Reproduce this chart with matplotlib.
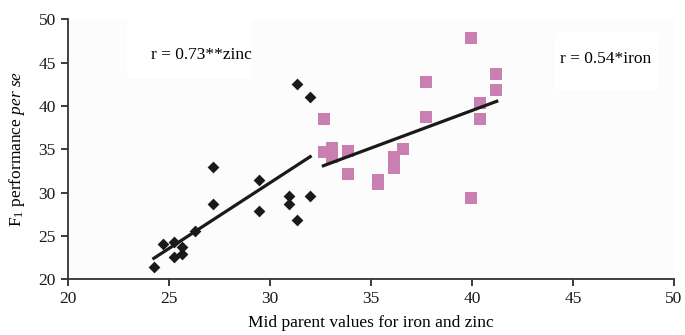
import matplotlib
matplotlib.use("Agg")
import matplotlib.pyplot as plt
import numpy as np
from matplotlib.patches import Rectangle

plt.rcParams['font.family'] = ['Liberation Serif', 'DejaVu Serif']
plt.rcParams['mathtext.fontset'] = 'custom'
plt.rcParams['mathtext.rm'] = 'Liberation Serif'
plt.rcParams['mathtext.it'] = 'Liberation Serif:italic'

# Zinc (black diamonds)
zinc_x = [24.26, 24.70, 25.26, 25.26, 25.66, 25.66, 26.30, 27.17, 27.17, 29.47,
          29.47, 30.93, 30.93, 31.35, 31.35, 31.97, 31.97]
zinc_y = [21.45, 24.10, 24.27, 22.57, 23.73, 22.92, 25.57, 32.99, 28.72, 31.42,
          27.92, 29.65, 28.72, 26.80, 42.50, 41.03, 29.65]
zinc_line_x = [24.26, 32.0]
zinc_line_y = [22.42, 34.15]

# Iron (pink squares)
iron_x = [32.67, 32.67, 33.10, 33.10, 33.87, 33.87, 35.35, 35.35, 36.15, 36.15,
          36.57, 37.71, 37.71, 39.97, 39.97, 40.40, 40.40, 41.18, 41.18]
iron_y = [38.46, 34.72, 35.20, 34.07, 34.80, 32.19, 31.46, 31.00, 34.07, 32.80,
          35.03, 42.80, 38.69, 47.80, 29.35, 40.30, 38.46, 43.70, 41.80]
iron_line_x = [32.65, 41.23]
iron_line_y = [33.10, 40.54]

x_ticks = [20, 25, 30, 35, 40, 45, 50]
y_ticks = [20, 25, 30, 35, 40, 45, 50]

fig = plt.figure(figsize=(6.85, 3.35), dpi=100)
fig.patch.set_facecolor('white')
ax = fig.add_axes([67.7/685, 1 - 279.3/335, (674-67.7)/685, (279.3-19.3)/335])
ax.set_facecolor('#fcfcfc')

ax.scatter(zinc_x, zinc_y, marker='D', s=36, color='#1a1a1a', zorder=3, linewidths=0)
ax.scatter(iron_x, iron_y, marker='s', s=64, color='#c97fb0', zorder=3, linewidths=0)
ax.plot(zinc_line_x, zinc_line_y, color='#1a1a1a', lw=2.3, zorder=4)
ax.plot(iron_line_x, iron_line_y, color='#1a1a1a', lw=2.3, zorder=4)

ax.set_xlim(20, 50)
ax.set_ylim(20, 50)
ax.set_xticks(x_ticks)
ax.set_yticks(y_ticks)
ax.tick_params(direction='out', length=5, width=1.2, labelsize=12.5, colors='#1a1a1a')
for s in ['top', 'right']:
    ax.spines[s].set_visible(False)
for s in ['left', 'bottom']:
    ax.spines[s].set_linewidth(1.3)
    ax.spines[s].set_color('#333333')

ax.set_xlabel('Mid parent values for iron and zinc', fontsize=12.5, labelpad=6)
ax.set_ylabel(r'F$_{1}$ performance $\it{per\ se}$', fontsize=12.5, labelpad=8)

# white boxes behind annotations
def px2data(px, py):
    return 20 + (px - 67.7) / 20.21, 20 + (279.3 - py) / 8.667
x0, y1 = px2data(127, 15)
x1, y0 = px2data(252, 78)
ax.add_patch(Rectangle((x0, y0), x1 - x0, y1 - y0, color='white', zorder=1, lw=0))
x0, y1 = px2data(555, 33)
x1, y0 = px2data(659, 90)
ax.add_patch(Rectangle((x0, y0), x1 - x0, y1 - y0, color='white', zorder=1, lw=0))

ax.text(26.6, 45.9, 'r = 0.73**zinc', fontsize=12.5, ha='center', va='center', zorder=5)
ax.text(46.6, 45.4, 'r = 0.54*iron', fontsize=12.5, ha='center', va='center', zorder=5)

fig.savefig('out.png', dpi=100, facecolor='white')
